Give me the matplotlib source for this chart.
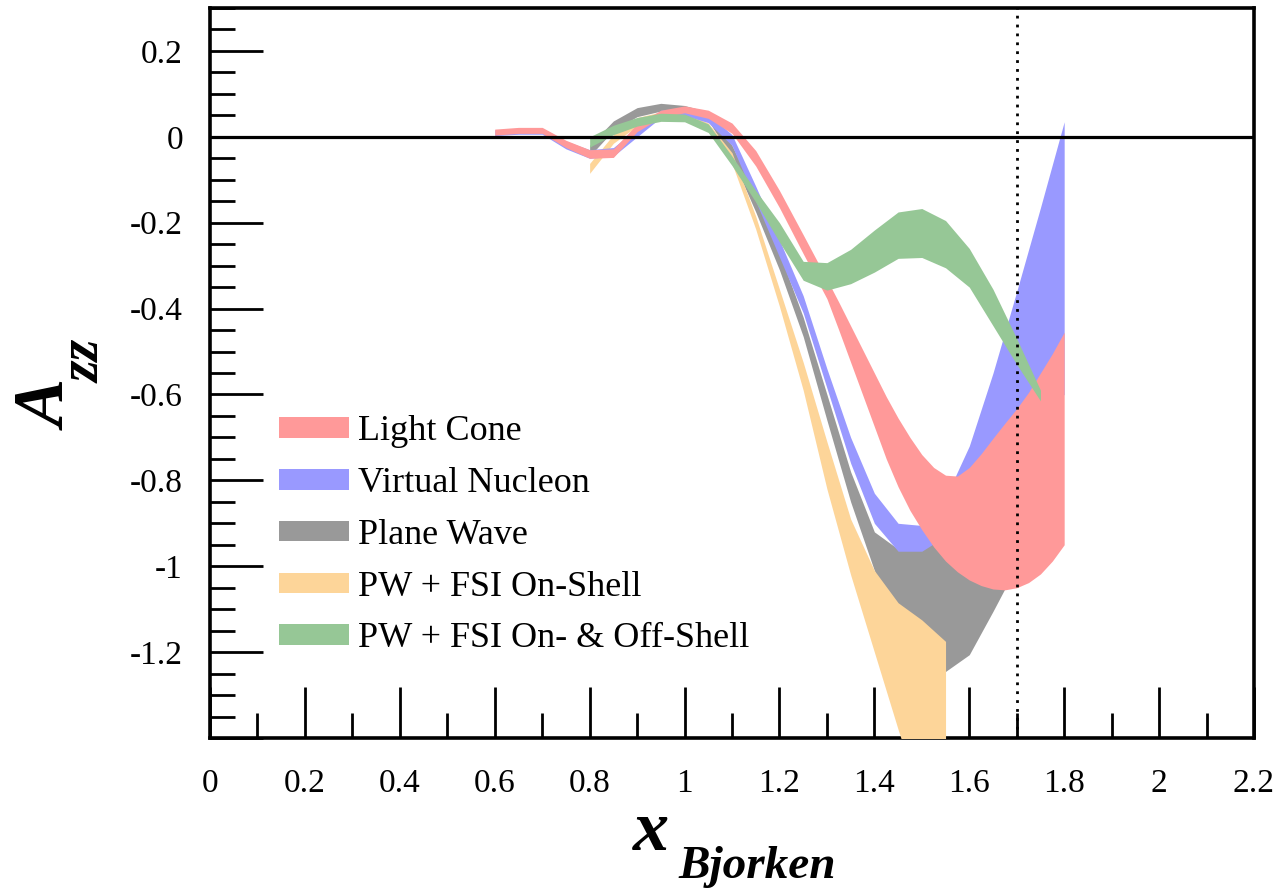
import matplotlib
matplotlib.use("Agg")
import matplotlib.pyplot as plt
from matplotlib.patches import Patch
from matplotlib.ticker import MultipleLocator, FormatStrFormatter

plt.rcParams['font.family'] = ['Liberation Serif', 'DejaVu Serif']

# Light Cone band (finer steps where it opens up)
x_lc = [0.6, 0.65, 0.7, 0.75, 0.8, 0.85, 0.9, 0.95, 1.0, 1.05, 1.1, 1.15, 1.2,
        1.25, 1.3, 1.325, 1.35, 1.375, 1.4, 1.425, 1.45, 1.475, 1.5, 1.525, 1.55,
        1.575, 1.6, 1.625, 1.65, 1.675, 1.7, 1.725, 1.75, 1.775, 1.8]
lc_lo = [0.004, 0.008, 0.008, -0.025, -0.05, -0.048, 0.012, 0.045, 0.056, 0.043, 0.008,
         -0.068, -0.165, -0.272, -0.377, -0.45, -0.525, -0.6, -0.675, -0.75, -0.815,
         -0.87, -0.915, -0.955, -0.988, -1.013, -1.032, -1.045, -1.053, -1.055, -1.05,
         -1.038, -1.018, -0.988, -0.95]
lc_hi = [0.018, 0.022, 0.022, -0.008, -0.03, -0.028, 0.03, 0.062, 0.072, 0.062, 0.032,
         -0.032, -0.125, -0.228, -0.332, -0.385, -0.44, -0.495, -0.55, -0.605, -0.655,
         -0.7, -0.74, -0.77, -0.788, -0.79, -0.77, -0.738, -0.702, -0.667, -0.633,
         -0.595, -0.55, -0.505, -0.455]

# Virtual Nucleon band
x_vn = [0.6, 0.65, 0.7, 0.75, 0.8, 0.85, 0.9, 0.95, 1.0, 1.05, 1.1, 1.15, 1.2,
        1.25, 1.3, 1.35, 1.4, 1.45, 1.5, 1.55, 1.6, 1.65, 1.7, 1.75, 1.8]
vn_lo = [0.003, 0.006, 0.006, -0.028, -0.05, -0.045, 0.0, 0.045, 0.05, 0.033, -0.02,
         -0.15, -0.28, -0.41, -0.585, -0.76, -0.9, -0.965, -0.965, -0.93, -0.86,
         -0.77, -0.69, -0.63, -0.6]
vn_hi = [0.016, 0.02, 0.02, -0.01, -0.03, -0.025, 0.02, 0.062, 0.068, 0.053, 0.005,
         -0.115, -0.24, -0.37, -0.54, -0.7, -0.83, -0.9, -0.905, -0.84, -0.72,
         -0.55, -0.36, -0.165, 0.035]

# Plane Wave and PW + FSI (on-shell / on- & off-shell)
x_pw = [0.8, 0.85, 0.9, 0.95, 1.0, 1.05, 1.1, 1.15, 1.2, 1.25, 1.3, 1.35, 1.4,
        1.45, 1.5, 1.55, 1.6, 1.65, 1.7, 1.75]
pw_lo = [-0.045, 0.015, 0.047, 0.06, 0.055, 0.038, -0.05, -0.175, -0.31, -0.465,
         -0.66, -0.85, -1.01, -1.14, -1.2, -1.245, -1.206, -1.105, -1.0, -0.9]
pw_hi = [-0.02, 0.037, 0.068, 0.078, 0.073, 0.058, -0.02, -0.135, -0.27, -0.42,
         -0.6, -0.78, -0.92, -0.96, -0.96, -0.88, -0.765, -0.61, -0.43, -0.215]

x_on = [0.8, 0.85, 0.9, 0.95, 1.0, 1.05, 1.1, 1.15, 1.2, 1.25, 1.3, 1.35, 1.4,
        1.45, 1.5, 1.55]
on_lo = [-0.085, -0.015, 0.025, 0.04, 0.038, 0.012, -0.062, -0.215, -0.395, -0.59,
         -0.82, -1.02, -1.2, -1.38, -1.55, -1.72]
on_hi = [-0.062, 0.005, 0.045, 0.058, 0.056, 0.032, -0.037, -0.185, -0.355, -0.525,
         -0.71, -0.89, -1.01, -1.085, -1.125, -1.175]

x_off = x_pw
off_lo = [-0.024, 0.005, 0.025, 0.036, 0.035, 0.01, -0.067, -0.152, -0.245, -0.334,
          -0.357, -0.342, -0.315, -0.283, -0.281, -0.305, -0.35, -0.44, -0.53, -0.615]
off_hi = [0.0, 0.027, 0.045, 0.055, 0.053, 0.03, -0.045, -0.125, -0.2, -0.29,
          -0.293, -0.262, -0.217, -0.175, -0.167, -0.195, -0.26, -0.355, -0.47, -0.59]

labels = ["Light Cone", "Virtual Nucleon", "Plane Wave", "PW + FSI On-Shell",
          "PW + FSI On- & Off-Shell"]
colors = ["#ff9999", "#9999ff", "#999999", "#fdd599", "#96c796"]

W, H = 1279, 888
fig = plt.figure(figsize=(W / 100, H / 100), dpi=100)
ax = fig.add_axes([210 / W, 1 - 738 / H, 1044 / W, 730 / H])

# draw order: gray, orange, blue, red, green on top
ax.fill_between(x_pw, pw_lo, pw_hi, color=colors[2], lw=0, zorder=2)
ax.fill_between(x_on, on_lo, on_hi, color=colors[3], lw=0, zorder=3)
ax.fill_between(x_vn, vn_lo, vn_hi, color=colors[1], lw=0, zorder=4)
ax.fill_between(x_lc, lc_lo, lc_hi, color=colors[0], lw=0, zorder=5)
ax.fill_between(x_off, off_lo, off_hi, color=colors[4], lw=0, zorder=6)

ax.axhline(0, color="black", lw=2.3, zorder=7)
ax.axvline(1.7, color="black", lw=2, ls=(0, (1, 2.2)), zorder=7)

ax.set_xlim(0, 2.2)
ax.set_ylim(-1.4, 0.3)

ax.xaxis.set_major_locator(MultipleLocator(0.2))
ax.xaxis.set_minor_locator(MultipleLocator(0.1))
ax.yaxis.set_major_locator(MultipleLocator(0.2))
ax.yaxis.set_minor_locator(MultipleLocator(0.05))
ax.xaxis.set_major_formatter(FormatStrFormatter('%g'))
ax.yaxis.set_major_formatter(FormatStrFormatter('%g'))

ax.tick_params(which="both", direction="in", top=False, right=False, width=2,
               labelsize=24, colors="black")
ax.tick_params(axis="x", which="major", length=37, pad=22)
ax.tick_params(axis="x", which="minor", length=18)
ax.tick_params(axis="y", which="major", length=38, pad=19.5)
ax.tick_params(axis="y", which="minor", length=18)
for s in ax.spines.values():
    s.set_linewidth(2.6)

# no label on the -1.4 corner tick
for lab in ax.get_yticklabels():
    if lab.get_text() in ("-1.4", "−1.4"):
        lab.set_visible(False)

handles = [Patch(facecolor=c, edgecolor="none") for c in colors]
ax.legend(handles, labels, loc="upper left", bbox_to_anchor=(0.066, 0.442),
          frameon=False, fontsize=26, borderpad=0, borderaxespad=0,
          handlelength=1.95, handleheight=0.5, handletextpad=0.25, labelspacing=0.52)

# axis titles, bold italic serif
fig.text(633 / W, 1 - 850 / H, "x", fontsize=52, ha="left", va="baseline",
         fontweight="bold", fontstyle="italic")
fig.text(678 / W, 1 - 878 / H, "Bjorken", fontsize=34, ha="left", va="baseline",
         fontweight="bold", fontstyle="italic")
fig.text(67 / W, 1 - 406 / H, "A", fontsize=52, rotation=90, rotation_mode="anchor",
         ha="center", va="baseline", fontweight="bold", fontstyle="italic")
fig.text(100 / W, 1 - 361 / H, "zz", fontsize=40, rotation=90, rotation_mode="anchor",
         ha="center", va="baseline", fontweight="bold", fontstyle="italic")

fig.savefig("out.png", dpi=100)
